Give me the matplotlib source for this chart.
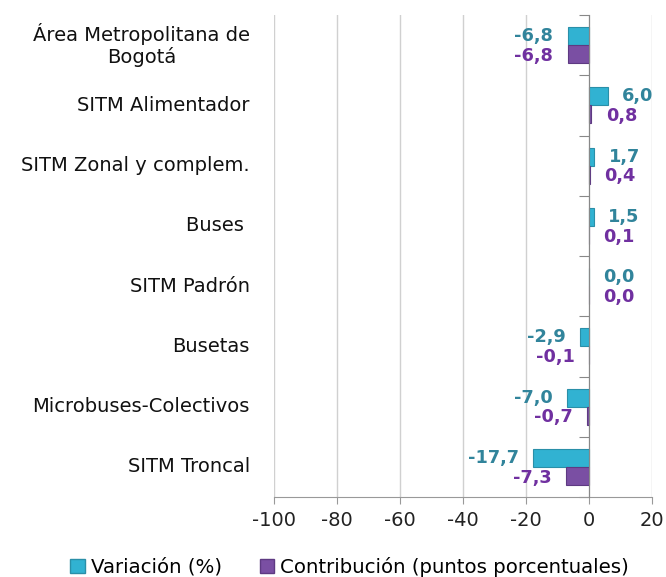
import matplotlib
matplotlib.use("Agg")
import matplotlib.pyplot as plt
from matplotlib.transforms import blended_transform_factory
from matplotlib.patches import Patch
import numpy as np

plt.rcParams['font.family'] = ['DejaVu Sans']

categories = ["Área Metropolitana de\nBogotá", "SITM Alimentador", "SITM Zonal y complem.",
              "Buses ", "SITM Padrón", "Busetas", "Microbuses-Colectivos", "SITM Troncal"]
variacion = [-6.8, 6.0, 1.7, 1.5, 0.0, -2.9, -7.0, -17.7]
contribucion = [-6.8, 0.8, 0.4, 0.1, 0.0, -0.1, -0.7, -7.3]
series_names = ["Variación (%)", "Contribución (puntos porcentuales)"]
xticks = [-100, -80, -60, -40, -20, 0, 20]

teal = "#31B2D2"
teal_edge = "#2A8FA8"
purple = "#7A4FA3"
purple_edge = "#5E3A82"
teal_txt = "#31849B"
purple_txt = "#7030A0"

fig = plt.figure(figsize=(6.66, 5.77), dpi=100)
ax = fig.add_axes([0.411, 0.1386, 0.568, 0.8354])

n = len(categories)
y = np.arange(n)
h = 0.3
ax.barh(y - h / 2, variacion, height=h, color=teal, edgecolor=teal_edge, linewidth=0.8, zorder=3)
ax.barh(y + h / 2, contribucion, height=h, color=purple, edgecolor=purple_edge, linewidth=0.8, zorder=3)

ax.set_xlim(-100, 20)
ax.set_ylim(n - 0.5, -0.5)
ax.set_xticks(xticks)
ax.set_xticklabels([str(t) for t in xticks], fontsize=14, color="#222222")
ax.tick_params(axis='x', length=5, color="#999999", pad=5)
ax.grid(axis='x', color="#D0D0D0", linewidth=1, zorder=0)

for s in ['top', 'right']:
    ax.spines[s].set_visible(False)
ax.spines['bottom'].set_color("#999999")
ax.spines['left'].set_position(('data', 0))
ax.spines['left'].set_color("#888888")
ax.spines['left'].set_zorder(4)
ax.set_yticks(np.arange(n + 1) - 0.5)
ax.set_yticklabels([])
ax.tick_params(axis='y', length=7, color="#888888", direction='out')

trans = blended_transform_factory(ax.transAxes, ax.transData)
for i, c in enumerate(categories):
    ax.text(-0.063, i, c, transform=trans, ha='right', va='center', multialignment='center',
            fontsize=14, color="#111111", linespacing=1.15)

off = 4.5
def lab(v, yy, col):
    s = f"{v:.1f}".replace('.', ',')
    if v < 0:
        ax.text(v - off, yy, s, ha='right', va='center', fontsize=12.8, fontweight='bold', color=col, zorder=5)
    else:
        ax.text(v + off, yy, s, ha='left', va='center', fontsize=12.8, fontweight='bold', color=col, zorder=5)

for i in range(n):
    lab(variacion[i], i - h / 2, teal_txt)
    lab(contribucion[i], i + h / 2 + 0.03, purple_txt)

handles = [Patch(facecolor=teal, edgecolor=teal_edge), Patch(facecolor=purple, edgecolor=purple_edge)]
fig.legend(handles, series_names, loc='center', bbox_to_anchor=(0.525, 0.018), ncol=2,
           frameon=False, fontsize=14.2, handlelength=0.75, handleheight=0.75, handletextpad=0.3,
           columnspacing=1.9)

fig.savefig("out.png", dpi=100)
